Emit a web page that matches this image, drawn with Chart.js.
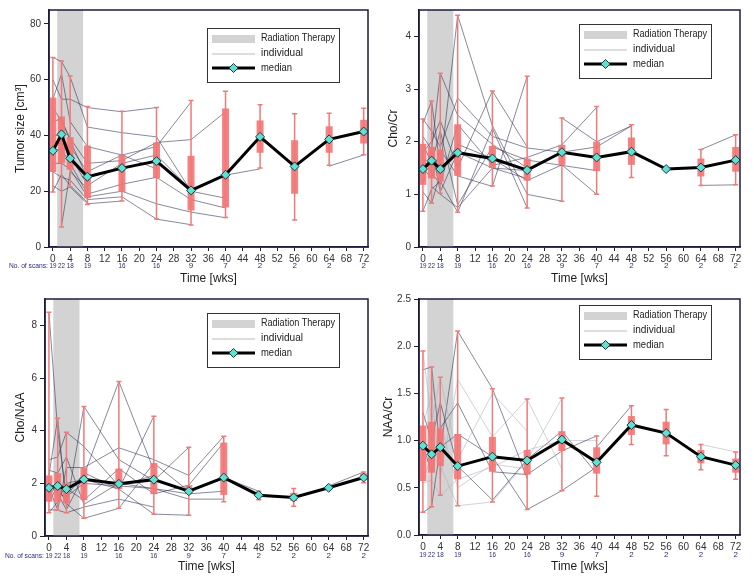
<!DOCTYPE html>
<html>
<head>
<meta charset="utf-8">
<script src="https://cdn.jsdelivr.net/npm/chart.js@4"></script>
<style>
  body { margin: 0; background: #fff; }
  #wrap { position: relative; width: 754px; height: 587px; }
  canvas { position: absolute; }
</style>
</head>
<body>
<div id="wrap">
  <canvas id="tumor" width="377" height="290" style="left:0;top:0"></canvas>
  <canvas id="chocr" width="377" height="290" style="left:377px;top:0"></canvas>
  <canvas id="chonaa" width="377" height="297" style="left:0;top:290px"></canvas>
  <canvas id="naacr" width="377" height="297" style="left:377px;top:290px"></canvas>
</div>
<script>
// scan weeks and number of scans per week
const weeks = [0, 2, 4, 8, 16, 24, 32, 40, 48, 56, 64, 72];
const scanCounts = [19, 22, 18, 19, 16, 16, 9, 7, 2, 2, 2, 2];
const xTicks = [0, 4, 8, 12, 16, 20, 24, 28, 32, 36, 40, 44, 48, 52, 56, 60, 64, 68, 72];
const radiationWeeks = [1, 7];

// Tumor size
const tumorMedian = [34.5, 40.4, 31.8, 25.2, 28.3, 30.8, 20.3, 25.9, 39.5, 28.9, 38.6, 41.4];
const tumorQ1 = [26.9, 30, 27.7, 17.5, 19.7, 24.7, 13.1, 14.2, 33.8, 19.1, 33.8, 37.1];
const tumorQ3 = [53.6, 46.8, 39.4, 36.4, 33, 37.5, 32.7, 49.7, 45.4, 38.3, 43.3, 45.6];
const tumorMin = [19.7, 7.2, 21.5, 15.2, 16.5, 10, 7.9, 10.6, 28.3, 9.7, 29.3, 33.1];
const tumorMax = [68, 66.7, 61.3, 50.4, 48.7, 50, 52.5, 55.9, 51, 47.8, 48, 49.8];
const tumorIndividuals = [
  [[0, 68], [2, 66.5], [4, 61], [8, 43], [16, 41], [24, 39.5], [32, 20], [40, 17.5]],
  [[0, 60], [2, 53], [4, 53], [8, 50], [16, 48.5], [24, 50]],
  [[0, 53], [2, 62], [4, 45], [8, 36], [16, 33], [24, 36], [32, 52]],
  [[0, 50], [2, 45], [4, 39], [8, 30], [16, 31], [24, 37.5], [32, 38.5], [40, 48.5]],
  [[0, 45], [2, 46], [4, 38], [8, 25], [16, 28], [24, 31]],
  [[0, 40], [2, 40], [4, 33], [8, 22], [16, 30], [24, 33], [32, 20.5], [40, 25.8], [48, 28]],
  [[0, 35], [2, 35], [4, 30], [8, 19], [16, 22.5], [24, 25], [32, 17], [40, 14]],
  [[0, 30], [2, 30], [4, 28], [8, 18], [16, 20], [24, 15.5], [32, 12.5], [40, 10.5]],
  [[0, 27], [2, 25], [4, 24], [8, 17], [16, 18], [24, 10], [32, 8]],
  [[0, 22], [2, 20], [4, 21.5], [8, 15.5], [16, 16.5]],
  [[0, 20], [2, 26], [4, 22], [8, 16]],
  [[2, 7.5], [4, 27], [8, 21]],
  [[0, 38], [4, 36], [8, 27], [16, 33], [24, 28]],
  [[64, 29], [72, 33]]
];

// Cho/Cr
const chocrMedian = [1.48, 1.64, 1.48, 1.79, 1.68, 1.46, 1.8, 1.7, 1.81, 1.48, 1.51, 1.65];
const chocrQ1 = [1.18, 1.3, 1.24, 1.35, 1.5, 1.26, 1.56, 1.44, 1.56, null, 1.34, 1.43];
const chocrQ3 = [1.96, 1.9, 1.85, 2.33, 1.92, 1.68, 1.94, 2.0, 2.08, null, 1.68, 1.9];
const chocrMin = [0.68, 0.83, 1.02, 0.66, 1.16, 0.74, 0.87, 1.0, 1.32, null, 1.17, 1.18];
const chocrMax = [2.43, 2.77, 3.3, 4.4, 2.96, 3.24, 2.45, 2.67, 2.32, null, 1.85, 2.13];
const chocrIndividuals = [
  [[0, 2.43], [2, 2.2], [4, 1.9], [8, 2.83], [16, 2.1], [24, 1.88], [32, 1.8], [40, 1.9], [48, 2.3]],
  [[0, 2.35], [2, 2.77], [4, 1.5], [8, 4.4], [16, 2.3], [24, 1.0], [32, 0.87]],
  [[0, 2.1], [2, 1.85], [4, 3.3], [8, 2.5], [16, 1.95], [24, 1.5]],
  [[0, 1.95], [2, 1.6], [4, 2.2], [8, 0.8], [16, 1.9], [24, 1.65], [32, 1.55], [40, 1.45]],
  [[0, 1.7], [2, 1.4], [4, 1.2], [8, 2.33], [16, 1.55], [24, 1.7], [32, 1.94], [40, 2.65]],
  [[0, 1.5], [2, 1.3], [4, 1.85], [8, 1.35], [16, 1.15], [24, 3.24]],
  [[0, 1.2], [2, 1.9], [4, 1.05], [8, 1.8], [16, 1.5], [24, 1.3]],
  [[0, 1.05], [2, 0.83], [4, 1.4], [8, 1.95], [16, 1.68], [24, 1.26], [32, 1.56], [40, 1.0]],
  [[0, 0.68], [2, 1.1], [4, 1.25], [8, 0.66], [16, 2.25], [24, 0.74]],
  [[0, 1.8], [2, 2.0], [4, 2.4], [8, 1.5], [16, 2.96], [24, 1.9]],
  [[2, 1.15], [4, 1.0], [8, 0.75], [16, 1.5], [24, 1.45]],
  [[32, 2.45], [40, 2.0], [48, 2.3]],
  [[64, 1.85], [72, 2.13]],
  [[64, 1.17], [72, 1.18]]
];

// Cho/NAA
const chonaaMedian = [1.83, 1.9, 1.78, 2.15, 1.98, 2.14, 1.7, 2.22, 1.55, 1.46, 1.83, 2.22];
const chonaaQ1 = [1.3, 1.3, 1.23, 1.36, 1.78, 1.59, 1.59, 1.56, 1.5, 1.33, null, 2.12];
const chonaaQ3 = [2.3, 2.39, 1.99, 2.6, 2.56, 2.77, 1.93, 3.55, 1.6, 1.64, null, 2.38];
const chonaaMin = [0.88, 0.98, 0.88, 0.67, 1.05, 0.83, 0.79, 1.3, 1.38, 1.13, null, 2.02];
const chonaaMax = [8.5, 4.47, 3.94, 4.92, 5.87, 4.55, 3.37, 3.79, 1.7, 1.8, null, 2.43];
const chonaaIndividuals = [
  [[0, 8.5], [2, 4.0], [4, 1.5], [8, 2.0], [16, 1.9], [24, 2.3]],
  [[0, 2.9], [2, 3.0], [4, 3.94], [8, 3.4], [16, 1.9], [24, 1.8], [32, 1.6], [40, 1.7]],
  [[0, 2.3], [2, 4.47], [4, 1.1], [8, 4.92], [16, 2.9], [24, 2.1], [32, 3.37]],
  [[0, 2.0], [2, 1.6], [4, 1.0], [8, 2.3], [16, 5.87], [24, 2.5]],
  [[0, 1.83], [2, 1.0], [4, 2.6], [8, 2.6], [16, 3.35], [24, 2.9], [32, 2.3], [40, 3.79]],
  [[0, 1.5], [2, 2.0], [4, 1.8], [8, 1.36], [16, 2.56], [24, 1.6], [32, 1.93], [40, 3.55]],
  [[0, 1.3], [2, 1.9], [4, 1.23], [8, 0.67], [16, 1.05], [24, 2.77], [32, 1.7], [40, 2.22], [48, 1.7]],
  [[0, 0.88], [2, 1.3], [4, 2.0], [8, 2.15], [16, 1.78], [24, 4.55]],
  [[0, 1.0], [2, 0.98], [4, 0.88], [8, 1.1], [16, 1.4], [24, 1.1]],
  [[0, 2.5], [2, 2.39], [4, 3.0], [8, 1.2], [16, 2.0], [24, 1.8], [32, 1.4], [40, 1.4]],
  [[2, 1.6], [4, 1.5], [8, 2.4], [16, 1.78], [24, 0.83], [32, 0.79]],
  [[64, 1.9], [72, 2.43]]
];

// NAA/Cr
const naacrMedian = [0.946, 0.855, 0.93, 0.73, 0.83, 0.79, 1.01, 0.77, 1.165, 1.08, 0.83, 0.74];
const naacrQ1 = [0.57, 0.66, 0.73, 0.59, 0.67, 0.64, 0.89, 0.65, 1.06, 0.96, 0.76, 0.66];
const naacrQ3 = [1.16, 1.2, 1.13, 1.07, 1.04, 0.9, 1.1, 0.93, 1.26, 1.2, 0.9, 0.81];
const naacrMin = [0.24, 0.3, 0.42, 0.31, 0.35, 0.27, 0.47, 0.41, 0.96, 0.84, 0.69, 0.59];
const naacrMax = [1.95, 1.78, 1.67, 2.16, 1.55, 1.44, 1.45, 1.05, 1.37, 1.33, 0.96, 0.88];
const naacrIndividuals = [
  [[0, 1.95], [2, 1.2], [4, 1.67], [8, 0.8], [16, 1.5], [24, 1.1]],
  [[0, 1.75], [2, 1.78], [4, 0.9], [8, 2.16], [16, 1.55], [24, 0.6]],
  [[0, 1.16], [2, 1.5], [4, 0.6], [8, 1.65], [16, 1.04], [24, 1.44], [32, 0.7]],
  [[0, 0.95], [2, 0.66], [4, 1.13], [8, 1.4], [16, 0.67], [24, 0.64], [32, 0.89], [40, 1.05]],
  [[0, 0.57], [2, 0.85], [4, 0.73], [8, 0.31], [16, 0.35], [24, 0.79], [32, 1.45]],
  [[0, 0.24], [2, 0.3], [4, 0.93], [8, 1.07], [16, 0.83], [24, 0.27], [32, 0.47], [40, 0.72]],
  [[0, 0.55], [2, 0.58], [4, 0.42], [8, 0.59], [16, 0.72], [24, 0.9], [32, 1.0], [40, 1.0]],
  [[0, 1.3], [2, 1.0], [4, 1.4], [8, 0.73], [16, 0.37], [24, 0.8], [32, 1.1], [40, 0.65]],
  [[2, 1.6], [4, 1.2], [8, 0.5], [16, 0.75], [24, 0.7]],
  [[40, 0.93], [48, 1.37]],
  [[64, 0.96], [72, 0.88]]
];

const FONT = '"Liberation Sans", Arial, sans-serif';
Chart.defaults.font.family = FONT;
Chart.defaults.color = '#333';

function makeDecor(p) {
  return {
    id: 'decor',
    beforeDatasetsDraw(chart) {
      const { ctx, chartArea, scales } = chart;
      const x0 = scales.x.getPixelForValue(radiationWeeks[0]);
      const x1 = scales.x.getPixelForValue(radiationWeeks[1]);
      ctx.save();
      ctx.fillStyle = '#d3d3d3';
      ctx.fillRect(x0, chartArea.top, x1 - x0, chartArea.bottom - chartArea.top);
      ctx.restore();
    },
    beforeDatasetDraw(chart, args) {
      if (args.index !== 0) return;
      // box plots go between the individual lines and the median
      const { ctx, scales } = chart;
      const y = scales.y;
      ctx.save();
      weeks.forEach((w, i) => {
        if (p.q1[i] == null) return;
        const cx = scales.x.getPixelForValue(w);
        ctx.strokeStyle = '#f07a7a';
        ctx.lineWidth = 1.5;
        ctx.beginPath();
        ctx.moveTo(cx, y.getPixelForValue(p.min[i]));
        ctx.lineTo(cx, y.getPixelForValue(p.max[i]));
        ctx.moveTo(cx - 2.5, y.getPixelForValue(p.min[i]));
        ctx.lineTo(cx + 2.5, y.getPixelForValue(p.min[i]));
        ctx.moveTo(cx - 2.5, y.getPixelForValue(p.max[i]));
        ctx.lineTo(cx + 2.5, y.getPixelForValue(p.max[i]));
        ctx.stroke();
        const top = y.getPixelForValue(p.q3[i]);
        const bot = y.getPixelForValue(p.q1[i]);
        ctx.fillStyle = 'rgba(244,116,116,0.9)';
        ctx.fillRect(cx - 3.5, top, 7, bot - top);
      });
      ctx.restore();
    },
    afterDraw(chart) {
      const { ctx, chartArea: a, scales } = chart;
      ctx.save();
      // frame
      ctx.strokeStyle = '#1c1c3c';
      ctx.lineWidth = 1.5;
      ctx.strokeRect(a.left, a.top, a.right - a.left, a.bottom - a.top);
      // scan counts
      ctx.fillStyle = '#2b2b7a';
      ctx.font = '8px ' + FONT;
      ctx.textAlign = 'center';
      ctx.textBaseline = 'middle';
      const cy = a.bottom + p.countsGap;
      weeks.forEach((w, i) => {
        ctx.fillText(String(scanCounts[i]), scales.x.getPixelForValue(w), cy, 7);
      });
      if (p.scansLabel) {
        ctx.textAlign = 'right';
        ctx.fillText('No. of scans:', scales.x.getPixelForValue(0) - 5, cy, 39);
      }
      // legend
      const lw = 132, lh = 54;
      const lx = a.right - 29 - lw;
      const ly = a.top + p.legendTop;
      ctx.fillStyle = '#fff';
      ctx.fillRect(lx, ly, lw, lh);
      ctx.strokeStyle = '#333';
      ctx.lineWidth = 1;
      ctx.strokeRect(lx + 0.5, ly + 0.5, lw, lh);
      const r1 = ly + 10, r2 = ly + 25, r3 = ly + 40;
      ctx.fillStyle = '#d3d3d3';
      ctx.fillRect(lx + 5, r1 - 3, 43, 8);
      ctx.strokeStyle = '#aaa';
      ctx.lineWidth = 0.8;
      ctx.beginPath();
      ctx.moveTo(lx + 5, r2 + 1);
      ctx.lineTo(lx + 48, r2 + 1);
      ctx.stroke();
      ctx.strokeStyle = '#000';
      ctx.lineWidth = 3;
      ctx.beginPath();
      ctx.moveTo(lx + 5, r3);
      ctx.lineTo(lx + 48, r3);
      ctx.stroke();
      ctx.fillStyle = '#5fe0d0';
      ctx.strokeStyle = '#1a3a40';
      ctx.lineWidth = 1;
      ctx.beginPath();
      ctx.moveTo(lx + 26.5, r3 - 4.5);
      ctx.lineTo(lx + 31, r3);
      ctx.lineTo(lx + 26.5, r3 + 4.5);
      ctx.lineTo(lx + 22, r3);
      ctx.closePath();
      ctx.fill();
      ctx.stroke();
      ctx.fillStyle = '#222';
      ctx.font = '11px ' + FONT;
      ctx.textAlign = 'left';
      ctx.fillText('Radiation Therapy', lx + 54, r1, 74);
      ctx.fillText('individual', lx + 54, r2, 42);
      ctx.fillText('median', lx + 54, r3, 31);
      ctx.restore();
    }
  };
}

function makePanel(id, p) {
  const datasets = [{
    data: weeks.map((w, i) => ({ x: w, y: p.median[i] })),
    borderColor: '#000',
    borderWidth: 3,
    pointStyle: 'rectRot',
    pointRadius: 4.5,
    pointBackgroundColor: '#5fe0d0',
    pointBorderColor: '#1a3a40',
    pointBorderWidth: 1,
    order: 0
  }];
  p.individuals.forEach((ind, k) => {
    const light = p.lightEvery && k % p.lightEvery === 0;
    datasets.push({
      data: ind.map(pt => ({ x: pt[0], y: pt[1] })),
      borderColor: light ? 'rgba(175,175,185,0.7)' : 'rgba(55,57,88,0.75)',
      borderWidth: 0.8,
      pointRadius: 0,
      order: 1
    });
  });

  new Chart(document.getElementById(id), {
    type: 'line',
    data: { datasets },
    plugins: [makeDecor(p)],
    options: {
      responsive: false,
      animation: false,
      devicePixelRatio: 1,
      layout: { padding: { top: p.padTop, right: p.padRight, bottom: 0, left: 0 } },
      plugins: { legend: { display: false }, tooltip: { enabled: false } },
      scales: {
        x: {
          type: 'linear',
          min: -0.9,
          max: 73,
          afterBuildTicks: s => { s.ticks = xTicks.map(v => ({ value: v })); },
          afterFit: s => { s.height = p.xHeight; },
          grid: { drawOnChartArea: false, tickLength: 4, color: '#222' },
          border: { color: '#1c1c3c', width: 1.5 },
          ticks: { font: { size: 10 }, color: '#333', padding: 2, maxRotation: 0, autoSkip: false },
          title: { display: true, text: 'Time [wks]', font: { size: 12 }, color: '#222', padding: { top: 0, bottom: p.xTitlePad } }
        },
        y: {
          min: 0,
          max: p.yMax,
          afterBuildTicks: s => { s.ticks = p.yTicks.map(v => ({ value: v })); },
          afterFit: s => { s.width = p.yWidth; },
          grid: { drawOnChartArea: false, tickLength: 5, color: '#222' },
          border: { color: '#1c1c3c', width: 1.5 },
          ticks: {
            font: { size: 10 }, color: '#333', padding: 3,
            callback: v => p.yDecimals ? v.toFixed(p.yDecimals) : String(v)
          },
          title: { display: true, text: p.yTitle, font: { size: 12 }, color: '#222', padding: { top: p.yTitlePad, bottom: 0 } }
        }
      }
    }
  });
}

makePanel('tumor', {
  median: tumorMedian, q1: tumorQ1, q3: tumorQ3, min: tumorMin, max: tumorMax,
  individuals: tumorIndividuals,
  yMax: 85, yTicks: [0, 20, 40, 60, 80], yTitle: 'Tumor size [cm³]',
  yWidth: 49, padTop: 10, padRight: 9, xHeight: 43, yTitlePad: 13, xTitlePad: 4,
  countsGap: 19, legendTop: 18, scansLabel: true
});
makePanel('chocr', {
  median: chocrMedian, q1: chocrQ1, q3: chocrQ3, min: chocrMin, max: chocrMax,
  individuals: chocrIndividuals,
  yMax: 4.5, yTicks: [0, 1, 2, 3, 4], yTitle: 'Cho/Cr',
  yWidth: 42, padTop: 10, padRight: 14, xHeight: 43, yTitlePad: 9, xTitlePad: 4,
  countsGap: 19, legendTop: 14, scansLabel: false
});
makePanel('chonaa', {
  median: chonaaMedian, q1: chonaaQ1, q3: chonaaQ3, min: chonaaMin, max: chonaaMax,
  individuals: chonaaIndividuals,
  yMax: 9, yTicks: [0, 2, 4, 6, 8], yTitle: 'Cho/NAA',
  yWidth: 45, padTop: 8, padRight: 9, xHeight: 51, yTitlePad: 13, xTitlePad: 13,
  countsGap: 20, legendTop: 14, scansLabel: true
});
makePanel('naacr', {
  median: naacrMedian, q1: naacrQ1, q3: naacrQ3, min: naacrMin, max: naacrMax,
  individuals: naacrIndividuals, lightEvery: 2,
  yMax: 2.5, yTicks: [0, 0.5, 1, 1.5, 2, 2.5], yDecimals: 1, yTitle: 'NAA/Cr',
  yWidth: 42, padTop: 9, padRight: 14, xHeight: 52, yTitlePad: 4, xTitlePad: 13,
  countsGap: 20, legendTop: 6, scansLabel: false
});
</script>
</body>
</html>
